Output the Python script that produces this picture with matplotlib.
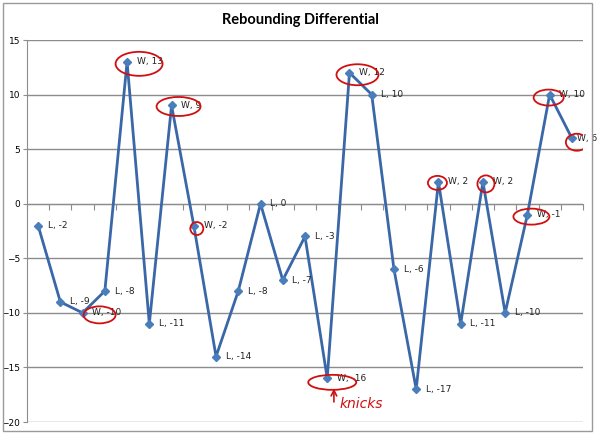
import matplotlib.pyplot as plt
from matplotlib.patches import Ellipse, Rectangle
import numpy as np

# game-by-game rebounding differential, result of each game
results = ['L', 'L', 'W', 'L', 'W', 'L', 'W', 'W', 'L', 'L', 'L', 'L', 'L',
           'W', 'W', 'L', 'L', 'L', 'W', 'L', 'W', 'L', 'W', 'W', 'W']
diffs = [-2, -9, -10, -8, 13, -11, 9, -2, -14, -8, 0, -7, -3,
         -16, 12, 10, -6, -17, 2, -11, 2, -10, -1, 10, 6]
yticks = [-20, -15, -10, -5, 0, 5, 10, 15]

# hand-drawn red circles: (game index, width px, height px, dx px, dy px)
circles = [(2, 32, 17, 17, 2), (4, 47, 24, 12, 2), (6, 44, 19, 7, 1),
           (7, 13, 13, 3, 3), (13, 48, 15, 5, 4), (14, 42, 21, 8, 2),
           (18, 19, 14, -1, 1), (20, 17, 17, 3, 2), (22, 36, 16, 4, 2),
           (23, 30, 16, -1, 3), (24, 22, 17, 5, 4)]

PX_X = 556 / 25.0   # pixels per category
PX_Y = 382 / 35.0   # pixels per unit

fig = plt.figure(figsize=(6, 4.33), dpi=100)
ax = fig.add_axes([27 / 600, 1 - 422 / 433, 556 / 600, 382 / 433])

x = np.arange(len(diffs))
ax.plot(x, diffs, color='#3A67A8', linewidth=2, marker='D', markersize=4,
        markerfacecolor='#4A7EBB', markeredgecolor='#4A7EBB', zorder=3)

for i, (r, v) in enumerate(zip(results, diffs)):
    off = 4 if i == len(diffs) - 1 else 7
    ax.annotate(f'{r}, {v}', (i, v), xytext=(off, 0), textcoords='offset points',
                fontsize=6.5, va='center', ha='left', color='#222222', zorder=4)

for i, w, h, dx, dy in circles:
    e = Ellipse((i + dx / PX_X, diffs[i] - dy / PX_Y), w / PX_X, h / PX_Y,
                fill=False, edgecolor='#D01010', linewidth=1.3, zorder=5)
    ax.add_patch(e)

ax.text((361 - 38) / PX_X, (203 - 403) / PX_Y, 'knicks', color='#D01010',
        fontsize=10, ha='center', va='center', style='italic')
ax.annotate('', xy=(13.3, (203 - 385) / PX_Y), xytext=(13.3, (203 - 404) / PX_Y),
            arrowprops=dict(arrowstyle='->', color='#D01010', lw=1.2))

ax.set_xlim(-0.5, len(diffs) - 0.5)
ax.set_ylim(-20, 15)
ax.set_yticks(yticks)
ax.yaxis.grid(True, color='#8C8C8C', linewidth=1)
ax.set_axisbelow(True)

ax.spines['top'].set_visible(False)
ax.spines['right'].set_visible(False)
ax.spines['left'].set_color('#8C8C8C')
ax.spines['bottom'].set_position(('data', 0))
ax.spines['bottom'].set_color('#8C8C8C')
ax.set_xticks(np.arange(-0.5, len(diffs), 1))
ax.set_xticklabels([])
ax.tick_params(axis='x', direction='out', length=4, color='#8C8C8C')
ax.tick_params(axis='y', direction='out', length=3, color='#8C8C8C',
               labelsize=6.5, pad=2)

fig.text(0.5, 1 - 20 / 433, 'Rebounding Differential', ha='center', va='center',
         fontsize=10.5, fontweight='bold', family='Lato')

fig.patches.append(Rectangle((3 / 600, 2 / 433), 589 / 600, 428 / 433,
                             transform=fig.transFigure, fill=False,
                             edgecolor='#9A9A9A', linewidth=1))

plt.savefig('out.png', dpi=100)
